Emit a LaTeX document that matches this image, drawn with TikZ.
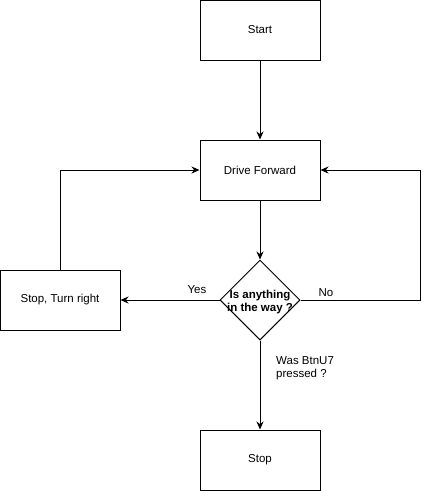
\documentclass[tikz,border=0pt]{standalone}
\usepackage{fontspec}
\setmainfont{Liberation Sans}
\usetikzlibrary{arrows.meta,shapes.geometric}
\begin{document}
\begin{tikzpicture}[x=1pt,y=-1pt,
  box/.style={draw,line width=1pt,minimum width=120pt,minimum height=60pt,inner sep=0pt,font=\fontsize{11.5}{13.5}\selectfont},
  decision/.style={draw,line width=1pt,diamond,minimum width=80pt,minimum height=80pt,inner sep=0pt},
  lbl/.style={font=\fontsize{11.5}{13.5}\selectfont,inner sep=0pt},
  conn/.style={line width=1pt,-{Stealth[length=8pt,width=7pt]}}]
\useasboundingbox (0,0) rectangle (429,491);
\node[box] (start) at (260,30) {Start};
\node[box] (drive) at (260,170) {Drive Forward};
\node[decision] (dec) at (260,300) {};
\node[lbl,font=\fontsize{11.5}{13.5}\selectfont\bfseries,align=center] (dectext) at (260,302) {Is anything\\in the way ?};
\node[box] (turn) at (60,300) {Stop, Turn right};
\node[box] (stop) at (260,460) {Stop};
\coordinate (rc) at (420,300);
\coordinate (rt) at (420,170);
\coordinate (lt) at (60,170);
\draw[conn] (start) -- (drive);
\draw[conn] (drive) -- (dec);
\draw[conn] (dec.west) -- (turn.east);
\draw[conn] (turn.north) -- (lt) -- (drive.west);
\draw[conn] (dec.east) -- (rc) -- (rt) -- (drive.east);
\draw[conn] (dec.south) -- (stop.north);
\node[lbl] (yes) at (197,290) {Yes};
\node[lbl] (no) at (326,293) {No};
\node[lbl,align=left,anchor=west] (was) at (276,368) {Was BtnU7\\pressed ?};
\end{tikzpicture}
\end{document}
